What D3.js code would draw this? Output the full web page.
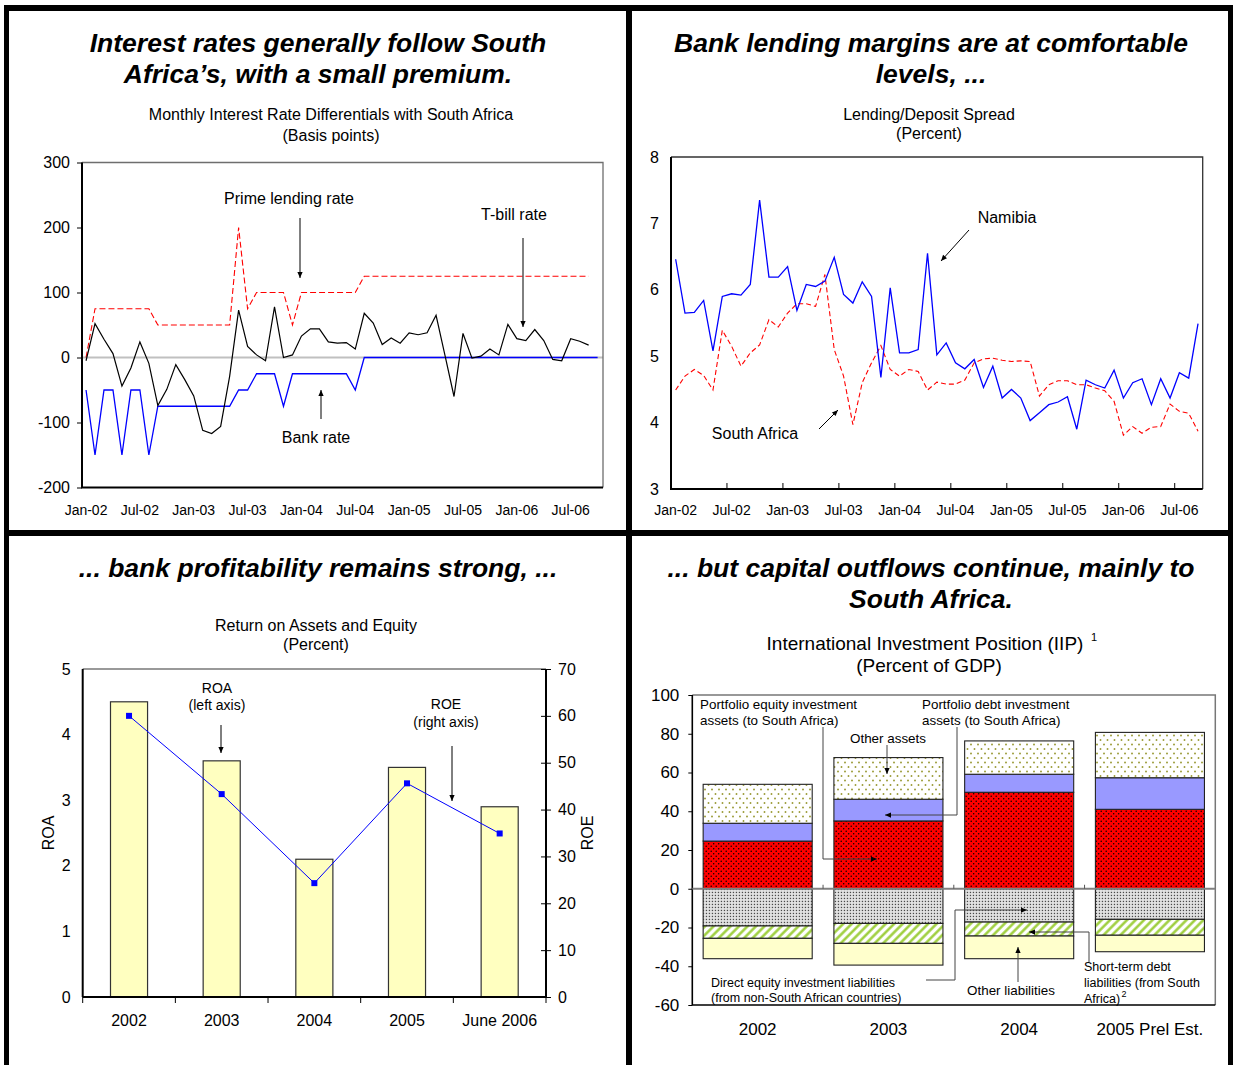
<!DOCTYPE html>
<html>
<head>
<meta charset="utf-8">
<script src="https://cdn.jsdelivr.net/npm/d3@7"></script>
<style>
  body { margin: 0; background: #fff; }
  svg { display: block; font-family: "Liberation Sans", Arial, sans-serif; }
</style>
</head>
<body>
<svg id="chart" width="1233" height="1065"></svg>
<script>
// ---------- Panel 1: monthly interest rate differentials (basis points) ----------
const monthLabels = ["Jan-02","Jul-02","Jan-03","Jul-03","Jan-04","Jul-04","Jan-05","Jul-05","Jan-06","Jul-06"];
const monthTickIdx = [0,6,12,18,24,30,36,42,48,54];
const diffTicks = [-200,-100,0,100,200,300];
const tbillRate = [-5,52,28,6,-44,-16,24,-9,-74,-49,
  -11,-34,-59,-112,-117,-106,-29,73,17,4,
  -5,78,0,4,33,44,44,24,22,23,
  13,68,53,20,30,22,38,35,38,65,
  3,-60,37,-1,2,13,4,51,29,26,
  43,26,-3,-5,29,25,19];
const primeRate = [0,75,75,75,75,75,75,75,50,50,
  50,50,50,50,50,50,50,200,75,100,
  100,100,100,50,100,100,100,100,100,100,
  100,125,125,125,125,125,125,125,125,125,
  125,125,125,125,125,125,125,125,125,125,
  125,125,125,125,125,125,125];
const bankRate = [-50,-150,-50,-50,-150,-50,-50,-150,-75,-75,
  -75,-75,-75,-75,-75,-75,-75,-50,-50,-25,
  -25,-25,-75,-25,-25,-25,-25,-25,-25,-25,
  -50,0,0,0,0,0,0,0,0,0,
  0,0,0,0,0,0,0,0,0,0,
  0,0,0,0,0,0,0,0];

// ---------- Panel 2: lending/deposit spread (percent) ----------
const spreadTicks = [3,4,5,6,7,8];
const namibiaSpread = [6.46,5.65,5.66,5.84,5.08,5.90,5.94,5.92,6.08,7.35,
  6.19,6.19,6.35,5.69,6.08,6.05,6.13,6.49,5.93,5.80,
  6.12,5.90,4.68,6.03,5.05,5.05,5.10,6.55,5.02,5.20,
  4.90,4.81,4.95,4.53,4.85,4.37,4.50,4.37,4.03,4.15,
  4.27,4.31,4.39,3.90,4.64,4.57,4.52,4.79,4.37,4.60,
  4.66,4.27,4.66,4.37,4.75,4.67,5.49];
const southAfricaSpread = [4.49,4.70,4.80,4.71,4.49,5.39,5.15,4.85,5.05,5.17,
  5.55,5.44,5.65,5.79,5.79,5.75,6.23,5.10,4.70,3.97,
  4.60,4.90,5.16,4.80,4.70,4.80,4.77,4.49,4.61,4.58,
  4.58,4.64,4.90,4.96,4.97,4.94,4.92,4.93,4.92,4.40,
  4.57,4.63,4.63,4.57,4.57,4.52,4.48,4.32,3.81,3.94,
  3.84,3.93,3.94,4.28,4.17,4.14,3.87];

// ---------- Panel 3: return on assets and equity (percent) ----------
const profitYears = ["2002","2003","2004","2005","June 2006"];
const roa = [4.5,3.6,2.1,3.5,2.9];
const roe = [60,43.3,24.3,45.6,34.9];
const roaTicks = [0,1,2,3,4,5];
const roeTicks = [0,10,20,30,40,50,60,70];

// ---------- Panel 4: international investment position (percent of GDP) ----------
const iipYears = ["2002","2003","2004","2005 Prel Est."];
const portEquityAssets = [24.6,35.0,49.8,41.0];
const portDebtAssets = [9.2,11.2,9.3,16.3];
const otherAssets = [20.1,21.5,17.2,23.4];
const directEquityLiab = [-19.2,-17.9,-17.2,-15.8];
const shortTermDebtLiab = [-6.4,-10.3,-7.2,-8.2];
const otherLiab = [-10.5,-11.2,-11.7,-8.5];
const iipTicks = [-60,-40,-20,0,20,40,60,80,100];

const FONT = '"Liberation Sans", Arial, sans-serif';
const plain = d => String(d);   // integer labels with an ASCII minus
const svg = d3.select("#chart");
const defs = svg.append("defs");

// arrowhead used by all annotation leaders
defs.append("marker").attr("id","arrow")
  .attr("viewBox","0 0 8 8").attr("refX",8).attr("refY",4)
  .attr("markerWidth",7).attr("markerHeight",6)
  .attr("markerUnits","userSpaceOnUse").attr("orient","auto")
  .append("path").attr("d","M0,0.5 L8,4 L0,7.5 Z").attr("fill","#000");

// fill patterns for the IIP stacks
function pattern(id, w, h, bg) {
  const p = defs.append("pattern").attr("id",id).attr("patternUnits","userSpaceOnUse")
    .attr("width",w).attr("height",h);
  p.append("rect").attr("width",w).attr("height",h).attr("fill",bg);
  return p;
}
{
  const a = pattern("pOtherAssets", 7, 9, "#fff");
  a.append("circle").attr("cx",1.5).attr("cy",2).attr("r",0.95).attr("fill","#999933");
  a.append("circle").attr("cx",5).attr("cy",6.5).attr("r",0.95).attr("fill","#999933");
  const e = pattern("pEquity", 5, 5, "#ff0000");
  e.append("circle").attr("cx",1.2).attr("cy",1.2).attr("r",0.75).attr("fill","#000");
  e.append("circle").attr("cx",3.7).attr("cy",3.7).attr("r",0.75).attr("fill","#000");
  const d = pattern("pDirect", 3, 3, "#e4e4e4");
  d.append("rect").attr("x",0.8).attr("y",0.8).attr("width",1.3).attr("height",1.3).attr("fill","#4a4a4a");
  const s = defs.append("pattern").attr("id","pShort").attr("patternUnits","userSpaceOnUse")
    .attr("width",6).attr("height",6).attr("patternTransform","rotate(45)");
  s.append("rect").attr("width",6).attr("height",6).attr("fill","#fff");
  s.append("line").attr("x1",1.5).attr("y1",0).attr("x2",1.5).attr("y2",6)
    .attr("stroke","#99cc33").attr("stroke-width",2.4);
}

function text(g, x, y, s, size, anchor = "middle") {
  return g.append("text").attr("x",x).attr("y",y).attr("font-size",size)
    .attr("text-anchor",anchor).attr("fill","#000").text(s);
}
function title(g, cx, lines, y0) {
  lines.forEach((s, i) => text(g, cx, y0 + i * 31, s, 26.5)
    .attr("font-weight","bold").attr("font-style","italic"));
}
function leader(g, pts, color = "#000") {
  g.append("path").attr("d", d3.line()(pts)).attr("fill","none")
    .attr("stroke",color).attr("stroke-width",1).attr("marker-end","url(#arrow)");
}
function styleAxis(sel, size) {
  sel.attr("font-family", FONT).attr("font-size", size);
  sel.select(".domain").remove();
  sel.selectAll(".tick line").attr("stroke","#000");
  sel.selectAll(".tick text").attr("fill","#000");
}

// ======================= Panel 1 =======================
{
  const g = svg.append("g");
  title(g, 318, ["Interest rates generally follow South", "Africa\u2019s, with a small premium."], 51.5);
  text(g, 331, 120, "Monthly Interest Rate Differentials with South Africa", 16);
  text(g, 331, 141, "(Basis points)", 16);

  const x = d3.scaleLinear().domain([-0.45, 57.6]).range([82, 603]);
  const y = d3.scaleLinear().domain([-200, 300]).range([487.5, 162.5]);

  g.append("line").attr("x1",82).attr("x2",603).attr("y1",y(0)).attr("y2",y(0))
    .attr("stroke","#c0c0c0").attr("stroke-width",2);

  g.append("path").attr("d","M82,162.5H603V487.5").attr("fill","none").attr("stroke","#6e6e6e").attr("stroke-width",1.3);
  g.append("path").attr("d","M82,162.5V487.5H603").attr("fill","none").attr("stroke","#000").attr("stroke-width",2);

  const ax = g.append("g").attr("transform","translate(82,0)")
    .call(d3.axisLeft(y).tickValues(diffTicks).tickFormat(plain).tickSize(5).tickPadding(7));
  styleAxis(ax, 16);

  monthTickIdx.forEach((m, i) => text(g, x(m), 515, monthLabels[i], 14));

  const line = d3.line().x((d, i) => x(i)).y(d => y(d));
  g.append("path").attr("d", line(primeRate)).attr("fill","none")
    .attr("stroke","#ff0000").attr("stroke-width",1.1).attr("stroke-dasharray","6,3");
  g.append("path").attr("d", line(bankRate)).attr("fill","none")
    .attr("stroke","#0000ff").attr("stroke-width",1.3);
  g.append("path").attr("d", line(tbillRate)).attr("fill","none")
    .attr("stroke","#000").attr("stroke-width",1.2);

  text(g, 289, 204, "Prime lending rate", 16);
  leader(g, [[300,218],[300,278]]);
  text(g, 514, 220, "T-bill rate", 16);
  leader(g, [[523,238],[523,327]]);
  text(g, 316, 443, "Bank rate", 16);
  leader(g, [[321,419],[321,390]]);
}

// ======================= Panel 2 =======================
{
  const g = svg.append("g");
  title(g, 931, ["Bank lending margins are at comfortable", "levels, ..."], 51.5);
  text(g, 929, 120, "Lending/Deposit Spread", 16);
  text(g, 929, 139, "(Percent)", 16);

  const x = d3.scaleLinear().domain([0, 57]).range([671, 1202.7]);
  const y = d3.scaleLinear().domain([3, 8]).range([489, 157]);

  g.append("path").attr("d","M671,157H1202.7V489").attr("fill","none").attr("stroke","#333").attr("stroke-width",1.3);
  g.append("path").attr("d","M671,157V489H1202.7").attr("fill","none").attr("stroke","#000").attr("stroke-width",2);

  const ax = g.append("g").attr("transform","translate(671,0)")
    .call(d3.axisLeft(y).tickValues(spreadTicks).tickFormat(plain).tickSize(0).tickPadding(12));
  styleAxis(ax, 16);

  monthTickIdx.slice(1).forEach(m => g.append("line")
    .attr("x1",x(m)).attr("x2",x(m)).attr("y1",489).attr("y2",483).attr("stroke","#000"));
  monthTickIdx.forEach((m, i) => text(g, x(m + 0.5), 515, monthLabels[i], 14));

  const line = d3.line().x((d, i) => x(i + 0.5)).y(d => y(d));
  g.append("path").attr("d", line(southAfricaSpread)).attr("fill","none")
    .attr("stroke","#ff0000").attr("stroke-width",1.1).attr("stroke-dasharray","5,3");
  g.append("path").attr("d", line(namibiaSpread)).attr("fill","none")
    .attr("stroke","#0000ff").attr("stroke-width",1.3);

  text(g, 1007, 223, "Namibia", 16);
  leader(g, [[969,230],[941,261]]);
  text(g, 755, 439, "South Africa", 16);
  leader(g, [[819,429],[838,410]]);
}

// ======================= Panel 3 =======================
{
  const g = svg.append("g");
  title(g, 318, ["... bank profitability remains strong, ..."], 577);
  text(g, 316, 631, "Return on Assets and Equity", 16);
  text(g, 316, 650, "(Percent)", 16);

  const x = d3.scaleBand().domain(profitYears).range([82.7, 546]).paddingInner(0.6).paddingOuter(0.3);
  const yL = d3.scaleLinear().domain([0, 5]).range([997, 669]);
  const yR = d3.scaleLinear().domain([0, 70]).range([997, 669]);

  g.append("line").attr("x1",82.7).attr("x2",546).attr("y1",669).attr("y2",669)
    .attr("stroke","#777").attr("stroke-width",1.3);

  g.selectAll("rect.bar").data(roa).join("rect").attr("class","bar")
    .attr("x",(d, i) => x(profitYears[i])).attr("width",x.bandwidth())
    .attr("y",d => yL(d)).attr("height",d => yL(0) - yL(d))
    .attr("fill","#ffffc0").attr("stroke","#333").attr("stroke-width",1.2);

  // axes
  g.append("line").attr("x1",82.7).attr("x2",82.7).attr("y1",669).attr("y2",997).attr("stroke","#000").attr("stroke-width",2);
  g.append("line").attr("x1",546).attr("x2",546).attr("y1",669).attr("y2",997).attr("stroke","#000").attr("stroke-width",2);
  g.append("line").attr("x1",82.7).attr("x2",546).attr("y1",997).attr("y2",997).attr("stroke","#000").attr("stroke-width",2);
  const bounds = profitYears.map(d => x(d) - x.step() * 0.3).concat([546]);
  bounds.forEach(b => g.append("line").attr("x1",b).attr("x2",b).attr("y1",997).attr("y2",1003).attr("stroke","#000"));

  const axL = g.append("g").attr("transform","translate(82.7,0)")
    .call(d3.axisLeft(yL).tickValues(roaTicks).tickFormat(plain).tickSize(0).tickPadding(12));
  styleAxis(axL, 16);
  const axR = g.append("g").attr("transform","translate(546,0)")
    .call(d3.axisRight(yR).tickValues(roeTicks).tickFormat(plain).tickSize(5).tickPadding(7));
  styleAxis(axR, 16);
  axR.selectAll(".tick line").attr("x1",-5);

  profitYears.forEach(d => text(g, x(d) + x.bandwidth() / 2, 1026, d, 16));
  text(g, 0, 0, "ROA", 16).attr("transform","translate(54,833) rotate(-90)");
  text(g, 0, 0, "ROE", 16).attr("transform","translate(593,833) rotate(-90)");

  const cx = (d, i) => x(profitYears[i]) + x.bandwidth() / 2;
  g.append("path").attr("d", d3.line().x(cx).y(d => yR(d))(roe))
    .attr("fill","none").attr("stroke","#0000ff").attr("stroke-width",1);
  g.selectAll("rect.mk").data(roe).join("rect").attr("class","mk")
    .attr("x",(d, i) => cx(d, i) - 3).attr("y",d => yR(d) - 3)
    .attr("width",6).attr("height",6).attr("fill","#0000ff");

  text(g, 217, 693, "ROA", 14);
  text(g, 217, 710, "(left axis)", 14);
  leader(g, [[221,725],[221,753]]);
  text(g, 446, 709, "ROE", 14);
  text(g, 446, 727, "(right axis)", 14);
  leader(g, [[452,746],[452,801]]);
}

// ======================= Panel 4 =======================
{
  const g = svg.append("g");
  title(g, 931, ["... but capital outflows continue, mainly to", "South Africa."], 577);
  text(g, 925, 650, "International Investment Position (IIP)", 19);
  text(g, 1094, 641, "1", 11);
  text(g, 929, 672, "(Percent of GDP)", 19);

  const x = d3.scaleBand().domain(iipYears).range([692.3, 1215.3]).paddingInner(0.166).paddingOuter(0.083);
  const y = d3.scaleLinear().domain([-60, 100]).range([1005, 695]);

  const keys = ["portEquity","portDebt","otherAssets","directEquity","shortTerm","otherLiab"];
  const fills = {portEquity:"url(#pEquity)", portDebt:"#9999ff", otherAssets:"url(#pOtherAssets)",
    directEquity:"url(#pDirect)", shortTerm:"url(#pShort)", otherLiab:"#ffffcc"};
  const rows = iipYears.map((yr, i) => ({
    year: yr, portEquity: portEquityAssets[i], portDebt: portDebtAssets[i], otherAssets: otherAssets[i],
    directEquity: directEquityLiab[i], shortTerm: shortTermDebtLiab[i], otherLiab: otherLiab[i]
  }));
  const series = d3.stack().keys(keys).offset(d3.stackOffsetDiverging)(rows);

  g.append("path").attr("d","M692.3,695H1215.3V1005").attr("fill","none").attr("stroke","#777").attr("stroke-width",1.5);
  g.append("path").attr("d","M692.3,695V1005H1215.3").attr("fill","none").attr("stroke","#000").attr("stroke-width",1.6);

  series.forEach(s => {
    g.selectAll(null).data(s).join("rect")
      .attr("x", d => x(d.data.year)).attr("width", x.bandwidth())
      .attr("y", d => y(Math.max(d[0], d[1]))).attr("height", d => Math.abs(y(d[0]) - y(d[1])))
      .attr("fill", fills[s.key]).attr("stroke","#222").attr("stroke-width",1.1);
  });

  g.append("line").attr("x1",692.3).attr("x2",1215.3).attr("y1",y(0)).attr("y2",y(0))
    .attr("stroke","#808080").attr("stroke-width",2);
  iipYears.slice(1).forEach(d => {
    const b = x(d) - x.step() * 0.083;
    g.append("line").attr("x1",b).attr("x2",b).attr("y1",y(0)).attr("y2",y(0) - 4).attr("stroke","#555");
  });

  const ax = g.append("g").attr("transform","translate(692.3,0)")
    .call(d3.axisLeft(y).tickValues(iipTicks).tickFormat(plain).tickSize(4).tickPadding(9));
  styleAxis(ax, 17);

  iipYears.forEach(d => text(g, x(d) + x.bandwidth() / 2, 1035, d, 17));

  const big = 13.4, small = 12.5;
  text(g, 700, 708.5, "Portfolio equity investment", big, "start");
  text(g, 700, 724.5, "assets (to South Africa)", big, "start");
  leader(g, [[823,727],[823,859],[877,859]], "#444");
  text(g, 888, 742.5, "Other assets", big);
  leader(g, [[887,745],[887,774]], "#444");
  text(g, 922, 708.5, "Portfolio debt investment", big, "start");
  text(g, 922, 724.5, "assets (to South Africa)", big, "start");
  leader(g, [[957,727],[957,815],[885,815]], "#444");
  text(g, 711, 986.5, "Direct equity investment liabilities", small, "start");
  text(g, 711, 1001.5, "(from non-South African countries)", small, "start");
  leader(g, [[926,980],[955,980],[955,910],[1027,910]], "#444");
  text(g, 1011, 994.5, "Other liabilities", big);
  leader(g, [[1018,982],[1018,947]], "#444");
  text(g, 1084, 970.5, "Short-term debt", small, "start");
  text(g, 1084, 986.5, "liabilities (from South", small, "start");
  text(g, 1084, 1002.5, "Africa)", small, "start");
  text(g, 1124, 997, "2", 9);
  leader(g, [[1089,962],[1089,932],[1029,932]], "#444");
}

// ---------- outer frame and dividers ----------
{
  const f = svg.append("g").attr("fill","#000");
  f.append("rect").attr("x",4).attr("y",5).attr("width",1229).attr("height",6);
  f.append("rect").attr("x",4).attr("y",5).attr("width",5).attr("height",1060);
  f.append("rect").attr("x",626).attr("y",5).attr("width",6).attr("height",1060);
  f.append("rect").attr("x",1228).attr("y",5).attr("width",5).attr("height",1060);
  f.append("rect").attr("x",4).attr("y",530).attr("width",1229).attr("height",6);
}
</script>
</body>
</html>
